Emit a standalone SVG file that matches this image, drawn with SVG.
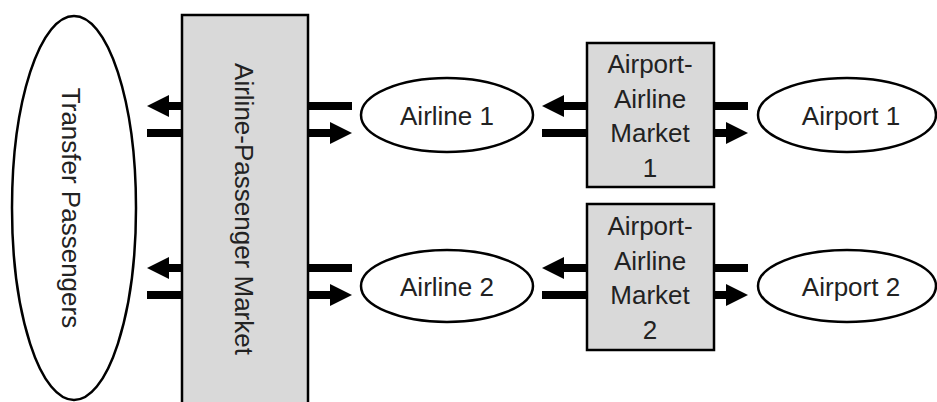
<svg xmlns="http://www.w3.org/2000/svg" width="937" height="402" viewBox="0 0 937 402">
<style>
.lbl{font-family:"Liberation Sans",Arial,sans-serif;font-size:26px;fill:#222;text-anchor:middle;dominant-baseline:central}
.ell{fill:#fff;stroke:#000;stroke-width:2.5}
.box{fill:#d9d9d9;stroke:#000;stroke-width:2.5}
.arr{stroke:#000;stroke-width:8;fill:none}
</style>
<defs>
<marker id="ah" markerUnits="userSpaceOnUse" markerWidth="22" markerHeight="22" refX="0" refY="11" orient="auto" viewBox="0 0 22 22">
<path d="M0,0 L22,11 L0,22 z" fill="#000"/>
</marker>
</defs>
<g id="connectors">
<line class="arr" x1="352" y1="106" x2="169" y2="106" marker-end="url(#ah)"/>
<line class="arr" x1="147" y1="133" x2="330" y2="133" marker-end="url(#ah)"/>
<line class="arr" x1="352" y1="268" x2="169" y2="268" marker-end="url(#ah)"/>
<line class="arr" x1="147" y1="295" x2="330" y2="295" marker-end="url(#ah)"/>
<line class="arr" x1="748" y1="106" x2="564" y2="106" marker-end="url(#ah)"/>
<line class="arr" x1="542" y1="133" x2="726" y2="133" marker-end="url(#ah)"/>
<line class="arr" x1="748" y1="268" x2="564" y2="268" marker-end="url(#ah)"/>
<line class="arr" x1="542" y1="295" x2="726" y2="295" marker-end="url(#ah)"/>
</g>
<g id="transfer-passengers">
<ellipse class="ell" cx="74" cy="208" rx="62" ry="192"/>
<text class="lbl" transform="translate(71,208) rotate(90)">Transfer Passengers</text>
</g>
<g id="airline-passenger-market">
<rect class="box" x="182" y="15" width="126" height="400"/>
<text class="lbl" transform="translate(244,209) rotate(90)">Airline-Passenger Market</text>
</g>
<g id="airline-1">
<ellipse class="ell" cx="447" cy="115" rx="86" ry="37"/>
<text class="lbl" x="447" y="116">Airline 1</text>
</g>
<g id="airline-2">
<ellipse class="ell" cx="447" cy="286" rx="86" ry="36"/>
<text class="lbl" x="447" y="287">Airline 2</text>
</g>
<g id="market-1">
<rect class="box" x="587" y="43" width="127" height="144"/>
<text class="lbl" x="650" y="64">Airport-</text>
<text class="lbl" x="650" y="99">Airline</text>
<text class="lbl" x="650" y="133">Market</text>
<text class="lbl" x="650" y="168">1</text>
</g>
<g id="market-2">
<rect class="box" x="587" y="204" width="127" height="146"/>
<text class="lbl" x="650" y="226">Airport-</text>
<text class="lbl" x="650" y="261">Airline</text>
<text class="lbl" x="650" y="295">Market</text>
<text class="lbl" x="650" y="330">2</text>
</g>
<g id="airport-1">
<ellipse class="ell" cx="847" cy="115" rx="89" ry="37"/>
<text class="lbl" x="851" y="116">Airport 1</text>
</g>
<g id="airport-2">
<ellipse class="ell" cx="847" cy="286" rx="89" ry="36"/>
<text class="lbl" x="851" y="287">Airport 2</text>
</g>
</svg>
